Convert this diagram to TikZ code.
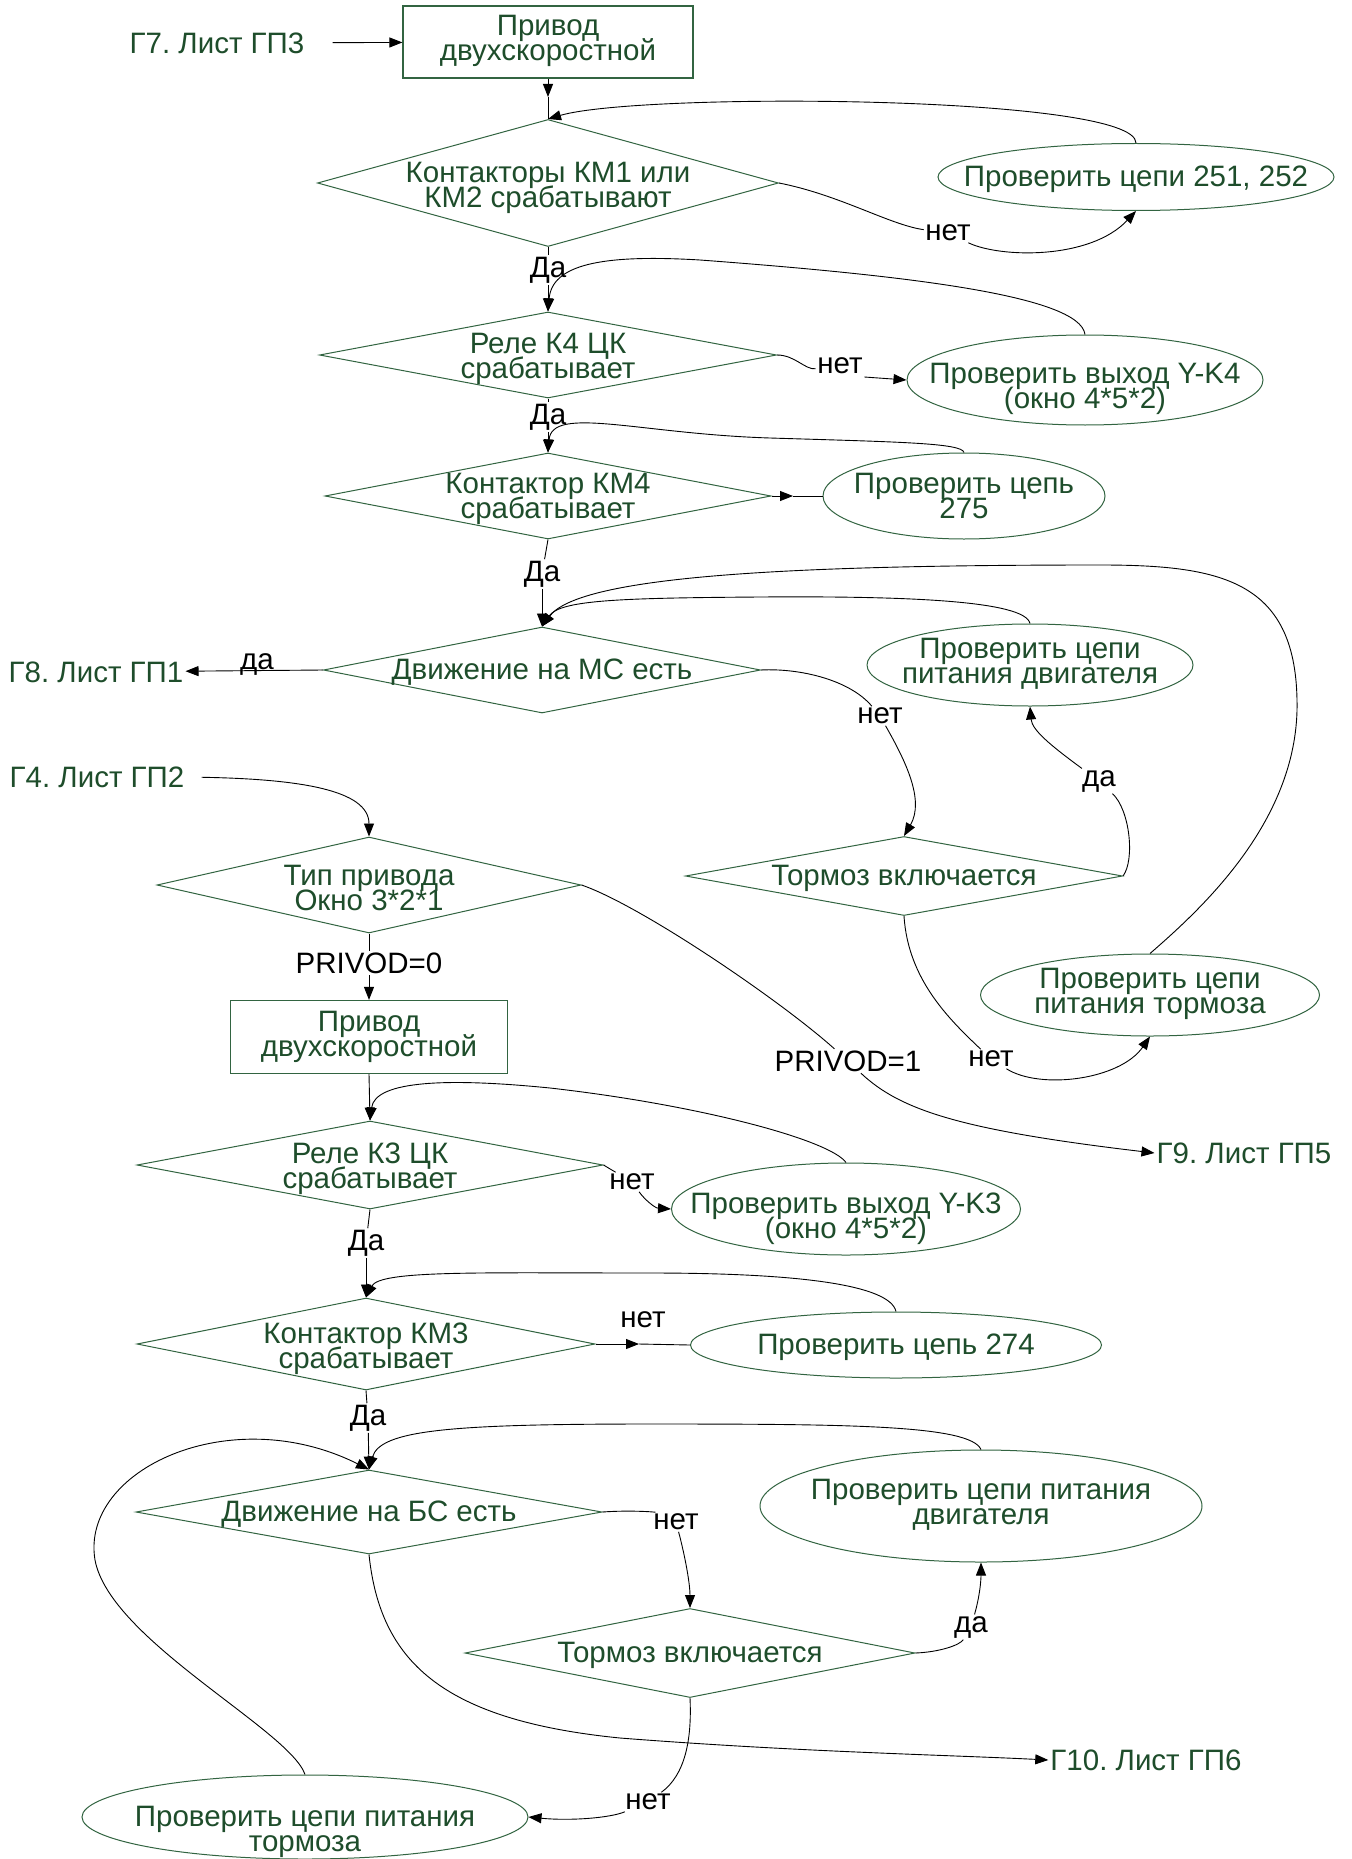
\documentclass[tikz,border=0pt]{standalone}
\usepackage{fontspec}
\setmainfont{Liberation Sans}
\usetikzlibrary{shapes.geometric,arrows.meta}
\definecolor{textgreen}{RGB}{30,77,43}
\definecolor{linegreen}{RGB}{50,100,65}
\frenchspacing
\newcommand{\nfont}{\fontsize{29.5}{25.5}\selectfont}
% centred text block of zero size: the shape size comes from the minimum sizes only;
% the optional argument lowers the block inside its shape
\newcommand{\zw}[2][11pt]{\raisebox{-#1}[0pt][0pt]{\makebox[0pt]{\begin{tabular}{@{}c@{}}#2\end{tabular}}}}
% one line of a block, kept at the fixed line pitch
\newcommand{\zl}[1]{\smash{#1}}
\tikzset{
  txt/.style={font=\nfont, text=textgreen, inner sep=2pt},
  lbl/.style={font=\nfont, text=black, inner sep=1.5pt},
  dec/.style={shape=diamond, draw=linegreen, line width=1pt, inner sep=0pt, font=\nfont, text=textgreen},
  proc/.style={shape=rectangle, draw=linegreen, line width=1.2pt, inner sep=0pt, font=\nfont, text=textgreen},
  chk/.style={shape=ellipse, draw=linegreen, line width=1pt, inner sep=0pt, font=\nfont, text=textgreen},
  ln/.style={line width=0.9pt, draw=black},
  arr/.style={ln, -{Triangle[length=13pt,width=10pt]}},
}
\begin{document}
\begin{tikzpicture}[x=1pt,y=-1pt]
\useasboundingbox[fill=white] (0,0) rectangle (1351,1859);

% ---------- upper branch: two-speed drive, small speed ----------
\node[txt] (t7) at (217,43) {Г7. Лист ГП3};
\node[proc, minimum width=290pt, minimum height=72pt] (box1) at (548,42) {\zw[7pt]{\zl{Привод}\\\zl{двухскоростной}}};
\coordinate (j1) at (548,97);
\node[dec, minimum width=461pt, minimum height=127pt] (d1) at (548,183) {\zw[13pt]{\zl{Контакторы КМ1 или}\\\zl{КМ2 срабатывают}}};
\node[chk, minimum width=396pt, minimum height=67pt] (e1) at (1136,177) {\zw{\zl{Проверить цепи 251, 252}}};
\node[lbl] (n1) at (948,233) {нет};
\node[lbl] (y1) at (548,270) {Да};
\node[dec, minimum width=457pt, minimum height=86pt] (d2) at (548,355) {\zw[12pt]{\zl{Реле К4 ЦК}\\\zl{срабатывает}}};
\node[lbl] (n2) at (840,366) {нет};
\node[chk, minimum width=356pt, minimum height=90pt] (e2) at (1085,380) {\zw[17pt]{\zl{Проверить выход Y-K4}\\\zl{(окно 4*5*2)}}};
\node[lbl] (y2) at (548,417) {Да};
\node[dec, minimum width=446pt, minimum height=86pt] (d3) at (548,496) {\zw{\zl{Контактор КМ4}\\\zl{срабатывает}}};
\coordinate (j3) at (793,496);
\node[chk, minimum width=282pt, minimum height=86pt] (e3) at (964,496) {\zw{\zl{Проверить цепь}\\\zl{275}}};
\node[lbl] (y3) at (542,574) {Да};
\node[dec, minimum width=437pt, minimum height=86pt] (d4) at (542,670) {\zw{\zl{Движение на МС есть}}};
\node[txt] (t8) at (96,672) {Г8. Лист ГП1};
\node[lbl] (y4) at (257,664) {да};
\node[chk, minimum width=326pt, minimum height=82pt] (e4) at (1030,665) {\zw[7pt]{\zl{Проверить цепи}\\\zl{питания двигателя}}};
\node[lbl] (n4) at (880,716) {нет};
\node[dec, minimum width=437pt, minimum height=79pt] (d5) at (904,876) {\zw{\zl{Тормоз включается}}};
\node[lbl] (y5) at (1099,781) {да};
\node[chk, minimum width=339pt, minimum height=82pt] (e6) at (1150,995) {\zw[7pt]{\zl{Проверить цепи}\\\zl{питания тормоза}}};
\node[lbl] (n5) at (991,1059) {нет};

% ---------- lower branch: drive type, big speed ----------
\node[txt] (t4) at (97,777) {Г4. Лист ГП2};
\node[dec, minimum width=424pt, minimum height=96pt] (d6) at (369,885) {\zw[14pt]{\zl{Тип привода}\\\zl{Окно 3*2*1}}};
\node[lbl] (p0) at (369,963) {PRIVOD=0};
\node[lbl] (p1) at (848,1061) {PRIVOD=1};
\node[txt] (t9) at (1244,1153) {Г9. Лист ГП5};
\node[proc, minimum width=277pt, minimum height=73pt] (box2) at (369,1037) {\zw[8pt]{\zl{Привод}\\\zl{двухскоростной}}};
\node[dec, minimum width=466pt, minimum height=88pt] (d7) at (370,1165) {\zw[12pt]{\zl{Реле К3 ЦК}\\\zl{срабатывает}}};
\node[lbl] (n7) at (632,1182) {нет};
\node[chk, minimum width=349pt, minimum height=92pt] (e7) at (846,1209) {\zw[18pt]{\zl{Проверить выход Y-K3}\\\zl{(окно 4*5*2)}}};
\node[lbl] (y7) at (366,1243) {Да};
\node[dec, minimum width=458pt, minimum height=92pt] (d8) at (366,1344) {\zw[13pt]{\zl{Контактор КМ3}\\\zl{срабатывает}}};
\node[lbl] (n8) at (643,1320) {нет};
\coordinate (j8) at (639,1344);
\node[chk, minimum width=411pt, minimum height=66pt] (e8) at (896,1345) {\zw{\zl{Проверить цепь 274}}};
\node[lbl] (y8) at (368,1418) {Да};
\node[dec, minimum width=466pt, minimum height=84pt] (d9) at (369,1512) {\zw{\zl{Движение на БС есть}}};
\node[chk, minimum width=442pt, minimum height=112pt] (e9) at (981,1506) {\zw[7pt]{\zl{Проверить цепи питания}\\\zl{двигателя}}};
\node[lbl] (n9) at (676,1522) {нет};
\node[dec, minimum width=450pt, minimum height=89pt] (d10) at (690,1653) {\zw{\zl{Тормоз включается}}};
\node[lbl] (y10) at (971,1627) {да};
\node[lbl] (n10) at (648,1802) {нет};
\node[chk, minimum width=446pt, minimum height=84pt] (e10) at (305,1817) {\zw[23pt]{\zl{Проверить цепи питания}\\\zl{тормоза}}};
\node[txt] (t10) at (1146,1760) {Г10. Лист ГП6};

% ---------- connectors, upper branch ----------
\draw[arr, shorten <=26pt] (t7) -- (box1);
\draw[arr] (box1.south) -- (j1);
\draw[ln] (j1) -- (d1.north);
\draw[arr] (e1.north) .. controls (1136,95) and (640,92) .. (d1.north);
\draw[ln] (d1.east) .. controls (840,195) and (890,225) .. (n1);
\draw[arr] (n1) .. controls (1000,258) and (1090,260) .. (e1.south);
\draw[ln] (d1.south) -- (y1);
\draw[arr] (y1) -- (d2.north);
\draw[arr] (e2.north) .. controls (1080,295) and (900,275) .. (700,260) .. controls (600,254) and (552,265) .. (d2.north);
\draw[ln] (d2.east) .. controls (795,355) and (805,370) .. (n2);
\draw[arr] ([yshift=-11pt]n2.east) -- (e2.west);
\draw[ln] (d2.south) -- (y2);
\draw[arr] (y2) -- (d3.north);
\draw[arr] (e3.north) .. controls (962,443) and (900,442) .. (770,438) .. controls (640,434) and (552,405) .. (d3.north);
\draw[arr] (d3.east) -- (j3);
\draw[ln] (j3) -- (e3.west);
\draw[ln] (d3.south) -- (y3);
\draw[arr] (y3) -- (d4.north);
\draw[arr] (e4.north) .. controls (1025,600) and (900,596) .. (760,597) .. controls (620,598) and (560,600) .. (d4.north);
\draw[arr] (e6.north) .. controls (1200,910) and (1300,820) .. (1297,700) .. controls (1295,580) and (1220,565) .. (1100,565) .. controls (800,565) and (580,575) .. (d4.north);
\draw[arr] (d4.west) -- (t8);
\draw[ln] (d4.east) .. controls (800,668) and (850,680) .. (n4);
\draw[arr] (n4) .. controls (905,760) and (925,800) .. (d5.north);
\draw[ln] (d5.east) .. controls (1135,860) and (1130,810) .. (y5);
\draw[arr] (y5) .. controls (1050,745) and (1032,730) .. (e4.south);
\draw[ln] (d5.south) .. controls (908,980) and (950,1020) .. (n5);
\draw[arr] (n5) .. controls (1040,1090) and (1120,1080) .. (e6.south);

% ---------- connectors, lower branch ----------
\draw[arr, shorten <=15pt] (t4.east) .. controls (300,779) and (369,790) .. (d6.north);
\draw[ln] (d6.south) -- (p0);
\draw[arr] (p0) -- (box2.north);
\draw[ln] (d6.east) .. controls (640,905) and (780,1000) .. (p1);
\draw[arr] (p1) .. controls (900,1110) and (960,1130) .. (t9.west);
\draw[arr] (box2.south) -- (d7.north);
\draw[arr] (e7.north) .. controls (830,1140) and (700,1105) .. (550,1088) .. controls (450,1078) and (375,1080) .. (d7.north);
\draw[ln] (d7.east) -- (n7);
\draw[arr] (n7) .. controls (645,1200) and (655,1208) .. (e7.west);
\draw[ln] (d7.south) -- (y7);
\draw[arr] (y7) -- (d8.north);
\draw[arr] (e8.north) .. controls (890,1285) and (800,1273) .. (650,1273) .. controls (480,1273) and (380,1270) .. (d8.north);
\draw[arr] (d8.east) -- (j8);
\draw[ln] (j8) -- (e8.west);
\draw[ln] (d8.south) -- (y8);
\draw[arr] (y8) -- (d9.north);
\draw[arr] (e9.north) .. controls (970,1425) and (850,1424) .. (650,1424) .. controls (450,1424) and (380,1430) .. (d9.north);
\draw[arr] (e10.north) .. controls (290,1730) and (110,1640) .. (95,1560) .. controls (80,1470) and (230,1400) .. (d9.north);
\draw[ln] (d9.east) .. controls (630,1510) and (655,1512) .. (n9);
\draw[arr] (n9) .. controls (686,1560) and (690,1585) .. (d10.north);
\draw[ln] (d10.east) .. controls (940,1652) and (960,1645) .. (y10);
\draw[arr] (y10) .. controls (980,1595) and (981,1580) .. (e9.south);
\draw[ln] (d10.south) .. controls (692,1740) and (685,1775) .. (n10);
\draw[arr] (n10) .. controls (610,1818) and (570,1821) .. (e10.east);
\draw[arr] (d9.south) .. controls (380,1660) and (440,1720) .. (620,1738) .. controls (800,1752) and (950,1755) .. (t10.west);
\end{tikzpicture}
\end{document}
